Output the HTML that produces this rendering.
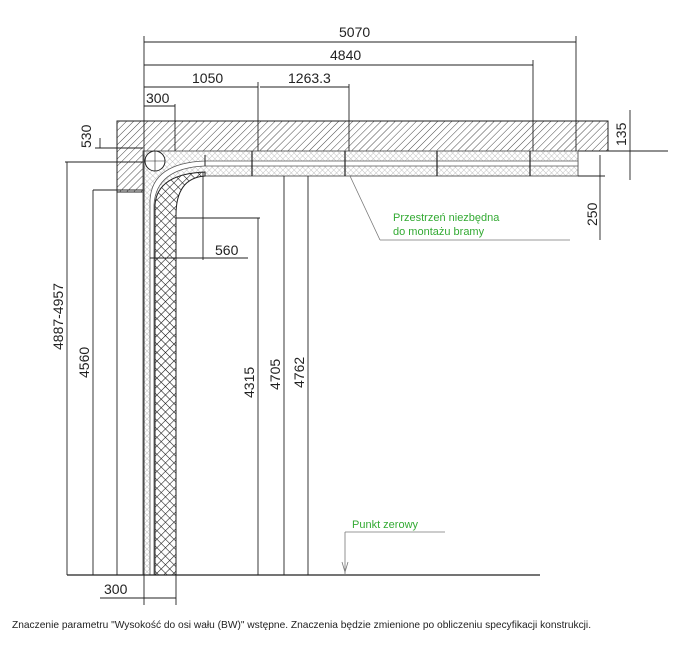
<!DOCTYPE html>
<html><head><meta charset="utf-8"><style>
html,body{margin:0;padding:0;background:#fff;width:699px;height:651px;overflow:hidden}
svg{display:block}
text{font-family:"Liberation Sans",sans-serif;fill:#222}
</style></head><body>
<svg width="699" height="651" viewBox="0 0 699 651" xmlns="http://www.w3.org/2000/svg">
<defs>
<pattern id="h" width="5" height="5" patternUnits="userSpaceOnUse" patternTransform="rotate(45)">
<rect width="5" height="5" fill="#fff"/><line x1="0" y1="0" x2="0" y2="5" stroke="#333" stroke-width="0.9"/></pattern>
<pattern id="x" width="6" height="6" patternUnits="userSpaceOnUse" patternTransform="rotate(45)">
<rect width="6" height="6" fill="#fff"/><line x1="0" y1="0" x2="0" y2="6" stroke="#111" stroke-width="1.1"/><line x1="0" y1="0" x2="6" y2="0" stroke="#111" stroke-width="1.1"/></pattern>
<pattern id="l" width="4" height="4" patternUnits="userSpaceOnUse" patternTransform="rotate(45)">
<rect width="4" height="4" fill="#fff"/><line x1="0" y1="0" x2="0" y2="4" stroke="#aaa" stroke-width="0.7"/><line x1="0" y1="0" x2="4" y2="0" stroke="#aaa" stroke-width="0.7"/></pattern>
</defs>
<g stroke="#222" stroke-width="1" fill="none">
<path d="M117 121 H608 V151 H143 V192 H117 Z" fill="url(#h)"/>
<line x1="608" y1="151" x2="668" y2="151"/>
<path d="M143 151 H578 V176 H205 Q176 176 176 210 V575 H143 Z" fill="url(#l)" stroke="#666"/>
<path d="M155 575 V205 Q157 174 205 172 L205 176 Q176 178 176 215 V575 Z" fill="url(#x)"/>
<path d="M150 575 V200 Q152 163 205 161 H578 V166 H205 Q156 168 154 205 V575 Z" fill="#fff" stroke="#555" stroke-width="0.8"/>
<line x1="205" y1="155" x2="205" y2="166"/>
<circle cx="155" cy="161" r="10" fill="#fff"/>
<line x1="155" y1="151" x2="155" y2="171" stroke-width="0.6"/>
<line x1="145" y1="161" x2="165" y2="161" stroke-width="0.6"/>
<g stroke-width="1.2"><line x1="252" y1="151" x2="252" y2="176"/><line x1="345" y1="151" x2="345" y2="176"/><line x1="437" y1="151" x2="437" y2="176"/><line x1="530" y1="151" x2="530" y2="176"/></g>
<g stroke-width="0.9">
<line x1="144" y1="42" x2="576" y2="42"/><line x1="144" y1="65" x2="533" y2="65"/>
<line x1="144" y1="87" x2="258" y2="87"/><line x1="260" y1="87" x2="349" y2="87"/>
<line x1="144" y1="106" x2="175" y2="106"/>
<line x1="144" y1="36" x2="144" y2="575"/><line x1="576" y1="36" x2="576" y2="151"/>
<line x1="533" y1="60" x2="533" y2="151"/><line x1="258" y1="82" x2="258" y2="151"/>
<line x1="349" y1="84" x2="349" y2="151"/><line x1="175" y1="104" x2="175" y2="151"/>
<line x1="95" y1="148" x2="143" y2="148"/><line x1="65" y1="162" x2="143" y2="162"/>
<line x1="93" y1="190" x2="143" y2="190"/>
<line x1="100" y1="138" x2="100" y2="148"/>
<line x1="67" y1="162" x2="67" y2="575"/><line x1="93" y1="190" x2="93" y2="575"/>
<line x1="117" y1="192" x2="117" y2="575"/>
<line x1="176" y1="218" x2="260" y2="218"/><line x1="258" y1="218" x2="258" y2="575"/>
<line x1="284" y1="176" x2="284" y2="575"/><line x1="308" y1="176" x2="308" y2="575"/>
<line x1="203" y1="172" x2="203" y2="260"/><line x1="150" y1="258" x2="248" y2="258"/>
<line x1="67" y1="575" x2="540" y2="575" stroke-width="1.2"/>
<line x1="100" y1="598" x2="176" y2="598"/><line x1="176" y1="575" x2="176" y2="605"/><line x1="144" y1="575" x2="144" y2="605"/>
<line x1="600" y1="155" x2="600" y2="240"/><line x1="578" y1="176" x2="605" y2="176"/>
<line x1="630" y1="110" x2="630" y2="180"/>
</g>
<g stroke="#777" stroke-width="0.8">
<line x1="350" y1="176" x2="380" y2="240"/><line x1="380" y1="240" x2="570" y2="240"/>
<line x1="345" y1="532" x2="445" y2="532"/><line x1="345" y1="532" x2="345" y2="575"/>
<path d="M342 562 L345 572 L348 562"/>
</g>
</g>
<g font-size="14">
<text x="339" y="37">5070</text>
<text x="330" y="60">4840</text>
<text x="192" y="83">1050</text>
<text x="288" y="83">1263.3</text>
<text x="146" y="103">300</text>
<text x="215" y="255">560</text>
<text x="104" y="594">300</text>
<text transform="translate(91,148) rotate(-90)">530</text>
<text transform="translate(63,350) rotate(-90)">4887-4957</text>
<text transform="translate(89,378) rotate(-90)">4560</text>
<text transform="translate(254,398) rotate(-90)">4315</text>
<text transform="translate(280,390) rotate(-90)">4705</text>
<text transform="translate(304,388) rotate(-90)">4762</text>
<text transform="translate(626,146) rotate(-90)">135</text>
<text transform="translate(597,226) rotate(-90)">250</text>
</g>
<g font-size="11">
<text x="393" y="221" style="fill:#3a3">Przestrzeń niezbędna</text>
<text x="393" y="235" style="fill:#3a3">do montażu bramy</text>
<text x="352" y="528" style="fill:#3a3">Punkt zerowy</text>
</g>
<text x="12" y="628" font-size="10.2">Znaczenie parametru "Wysokość do osi wału (BW)" wstępne. Znaczenia będzie zmienione po obliczeniu specyfikacji konstrukcji.</text>
</svg>
</body></html>
